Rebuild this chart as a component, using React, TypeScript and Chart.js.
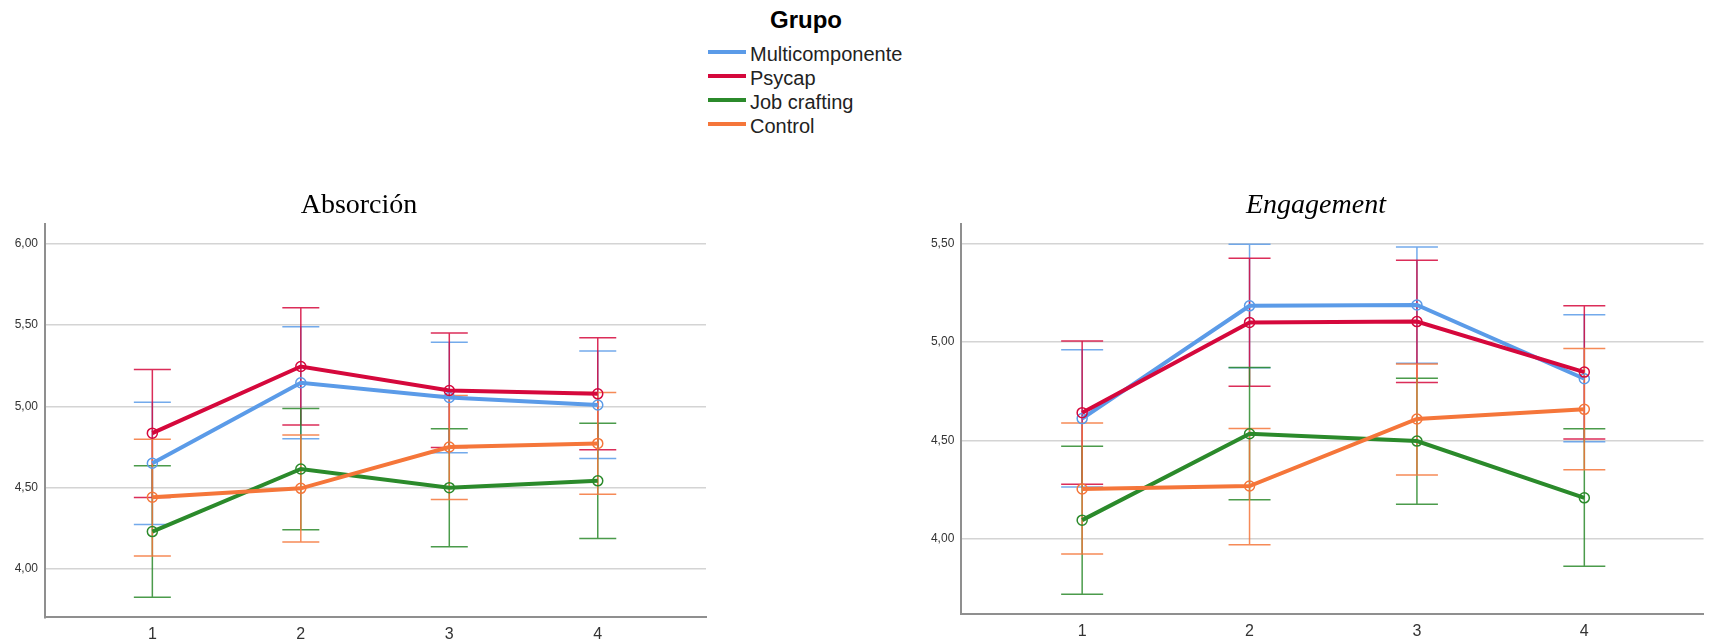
import React, { useEffect, useRef } from "react";
import { Chart, registerables } from "chart.js";

Chart.register(...registerables);

// ---------- data ----------
const timePoints = [1, 2, 3, 4];
const absTickValues = [4.0, 4.5, 5.0, 5.5, 6.0];
const engTickValues = [4.0, 4.5, 5.0, 5.5];

const groupNames = ["Multicomponente", "Psycap", "Job crafting", "Control"];
const groupColors = ["#5b9be8", "#d5083c", "#2b8a2b", "#f5763a"];
const groupErrColors = [
  "rgba(91,155,232,0.85)",
  "rgba(213,8,60,0.85)",
  "rgba(43,138,43,0.85)",
  "rgba(245,118,58,0.85)",
];

// Absorción
const absMultiMean = [4.65, 5.145, 5.055, 5.008];
const absMultiLow = [4.273, 4.8, 4.715, 4.68];
const absMultiHigh = [5.025, 5.49, 5.394, 5.34];
const absPsyMean = [4.835, 5.245, 5.097, 5.077];
const absPsyLow = [4.44, 4.885, 4.747, 4.733];
const absPsyHigh = [5.226, 5.606, 5.451, 5.421];
const absJobMean = [4.23, 4.615, 4.5, 4.542];
const absJobLow = [3.826, 4.242, 4.137, 4.187];
const absJobHigh = [4.634, 4.987, 4.862, 4.896];
const absCtrlMean = [4.441, 4.496, 4.75, 4.772];
const absCtrlLow = [4.08, 4.166, 4.427, 4.46];
const absCtrlHigh = [4.797, 4.824, 5.067, 5.085];

// Engagement
const engMultiMean = [4.611, 5.183, 5.187, 4.813];
const engMultiLow = [4.264, 4.869, 4.892, 4.493];
const engMultiHigh = [4.96, 5.495, 5.481, 5.138];
const engPsyMean = [4.641, 5.099, 5.103, 4.847];
const engPsyLow = [4.278, 4.775, 4.794, 4.508];
const engPsyHigh = [5.005, 5.424, 5.414, 5.183];
const engJobMean = [4.096, 4.534, 4.497, 4.209];
const engJobLow = [3.72, 4.199, 4.177, 3.862];
const engJobHigh = [4.471, 4.87, 4.816, 4.559];
const engCtrlMean = [4.254, 4.269, 4.609, 4.658];
const engCtrlLow = [3.924, 3.971, 4.325, 4.352];
const engCtrlHigh = [4.589, 4.561, 4.888, 4.966];

const absSeries = [
  [absMultiMean, absMultiLow, absMultiHigh],
  [absPsyMean, absPsyLow, absPsyHigh],
  [absJobMean, absJobLow, absJobHigh],
  [absCtrlMean, absCtrlLow, absCtrlHigh],
];
const engSeries = [
  [engMultiMean, engMultiLow, engMultiHigh],
  [engPsyMean, engPsyLow, engPsyHigh],
  [engJobMean, engJobLow, engJobHigh],
  [engCtrlMean, engCtrlLow, engCtrlHigh],
];

const SANS = "'Liberation Sans', Arial, sans-serif";
const SERIF = "'Liberation Serif', 'Times New Roman', serif";

// ---------- error bar plugin ----------
const errorBarPlugin = {
  id: "errorBars",
  beforeDatasetsDraw(chart: any, _args: any, opts: any) {
    const { ctx } = chart;
    const xs = chart.scales.x;
    const ys = chart.scales.y;
    const half = opts && opts.capHalfWidth ? opts.capHalfWidth : 18;
    chart.data.datasets.forEach((ds: any, di: number) => {
      if (!chart.isDatasetVisible(di)) return;
      ctx.save();
      ctx.strokeStyle = ds.errColor;
      ctx.lineWidth = 1.5;
      ds.errLow.forEach((lo: number, i: number) => {
        const hi = ds.errHigh[i];
        const x = xs.getPixelForValue(timePoints[i]);
        const yl = ys.getPixelForValue(lo);
        const yh = ys.getPixelForValue(hi);
        ctx.beginPath();
        ctx.moveTo(x, yh);
        ctx.lineTo(x, yl);
        ctx.moveTo(x - half, yh);
        ctx.lineTo(x + half, yh);
        ctx.moveTo(x - half, yl);
        ctx.lineTo(x + half, yl);
        ctx.stroke();
      });
      ctx.restore();
    });
  },
};

type PanelProps = {
  title: string;
  italic: boolean;
  series: number[][][];
  ticks: number[];
  yMin: number;
  yMax: number;
  xMin: number;
  xMax: number;
  left: number;
  top: number;
  width: number;
  height: number;
  padRight: number;
  yAxisWidth: number;
  xAxisHeight: number;
  capHalf: number;
};

function ChartPanel(p: PanelProps) {
  const ref = useRef<HTMLCanvasElement | null>(null);
  useEffect(() => {
    if (!ref.current) return;
    const datasets = p.series.map((s, gi) => ({
      label: groupNames[gi],
      data: timePoints.map((t, i) => ({ x: t, y: s[0][i] })),
      errLow: s[1],
      errHigh: s[2],
      errColor: groupErrColors[gi],
      borderColor: groupColors[gi],
      backgroundColor: groupColors[gi],
      borderWidth: 4,
      pointRadius: 5,
      pointBorderWidth: 1.5,
      pointBorderColor: groupColors[gi],
      pointBackgroundColor: "rgba(0,0,0,0)",
      tension: 0,
      order: 4 - gi,
    }));
    const chart = new Chart(ref.current, {
      type: "line",
      data: { datasets: datasets as any },
      plugins: [errorBarPlugin as any],
      options: {
        animation: false,
        responsive: false,
        devicePixelRatio: 1,
        layout: { padding: { left: 12, right: p.padRight, top: 0, bottom: 0 } },
        plugins: {
          legend: { display: false },
          tooltip: { enabled: false },
          title: {
            display: true,
            text: p.title,
            color: "#000",
            font: {
              family: SERIF,
              size: 28,
              weight: "normal",
              style: p.italic ? "italic" : "normal",
            } as any,
            padding: { top: 18.5, bottom: 1.9 },
          },
          errorBars: { capHalfWidth: p.capHalf },
        } as any,
        scales: {
          x: {
            type: "linear",
            min: p.xMin,
            max: p.xMax,
            afterBuildTicks: (scale: any) => {
              scale.ticks = timePoints.map((v) => ({ value: v }));
            },
            afterFit: (scale: any) => {
              scale.height = p.xAxisHeight;
            },
            grid: { display: false, drawTicks: false },
            border: { display: true, color: "#8f8f8f", width: 2 },
            ticks: {
              color: "#333",
              padding: 8,
              font: { family: SANS, size: 16 },
              callback: (v: any) => String(v),
            },
          },
          y: {
            type: "linear",
            min: p.yMin,
            max: p.yMax,
            afterBuildTicks: (scale: any) => {
              scale.ticks = p.ticks.map((v) => ({ value: v }));
            },
            afterFit: (scale: any) => {
              scale.width = p.yAxisWidth;
            },
            grid: { color: "#d4d4d4", lineWidth: 1.5, drawTicks: false },
            border: { display: true, color: "#8f8f8f", width: 2 },
            ticks: {
              color: "#333",
              padding: 7,
              font: { family: SANS, size: 12 },
              callback: (v: any) => Number(v).toFixed(2).replace(".", ","),
            },
          },
        },
      } as any,
    });
    return () => chart.destroy();
  }, []);
  return (
    <canvas
      ref={ref}
      width={p.width}
      height={p.height}
      style={{ position: "absolute", left: p.left, top: p.top, width: p.width, height: p.height }}
    />
  );
}

function Legend() {
  const rowTops = [42, 66, 90, 114];
  return (
    <div style={{ position: "absolute", left: 0, top: 0, width: 1710, height: 140 }}>
      <div
        style={{
          position: "absolute",
          left: 706,
          top: 6,
          width: 200,
          textAlign: "center",
          fontFamily: SANS,
          fontWeight: "bold",
          fontSize: 24,
          lineHeight: "28px",
          color: "#000",
        }}
      >
        Grupo
      </div>
      {groupNames.map((name, i) => (
        <div key={name}>
          <div
            style={{
              position: "absolute",
              left: 708,
              top: rowTops[i] + 8,
              width: 38,
              height: 4,
              background: groupColors[i],
            }}
          />
          <div
            style={{
              position: "absolute",
              left: 750,
              top: rowTops[i],
              fontFamily: SANS,
              fontSize: 20,
              lineHeight: "24px",
              color: "#222",
              whiteSpace: "nowrap",
            }}
          >
            {name}
          </div>
        </div>
      ))}
    </div>
  );
}

export default function App() {
  return (
    <div
      style={{
        position: "absolute",
        left: 0,
        top: 0,
        width: 1710,
        height: 643,
        background: "#fff",
        overflow: "hidden",
      }}
    >
      <Legend />
      <ChartPanel
        title="Absorción"
        italic={false}
        series={absSeries}
        ticks={absTickValues}
        yMin={3.703}
        yMax={6.121}
        xMin={0.277}
        xMax={4.729}
        left={0}
        top={170}
        width={720}
        height={473}
        padRight={14}
        yAxisWidth={33}
        xAxisHeight={25.7}
        capHalf={18.5}
      />
      <ChartPanel
        title="Engagement"
        italic={true}
        series={engSeries}
        ticks={engTickValues}
        yMin={3.62}
        yMax={5.598}
        xMin={0.278}
        xMax={4.712}
        left={910}
        top={170}
        width={800}
        height={473}
        padRight={0}
        yAxisWidth={39.3}
        xAxisHeight={29}
        capHalf={21}
      />
    </div>
  );
}
